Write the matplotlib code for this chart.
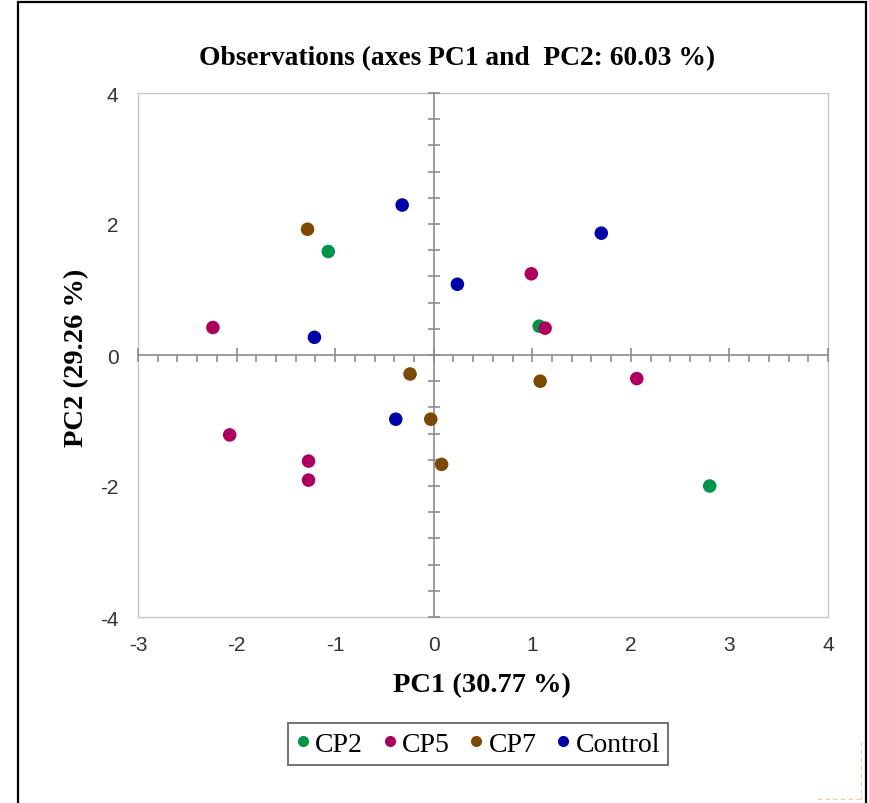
import matplotlib
matplotlib.use("Agg")
import matplotlib.pyplot as plt
from matplotlib.ticker import MultipleLocator, NullFormatter
from matplotlib.patches import Rectangle
from matplotlib.lines import Line2D

plt.rcParams["axes.unicode_minus"] = False

groups = ["CP2", "CP5", "CP7", "Control"]
colors = ["#00934A", "#AD005E", "#7B4A00", "#0000A8"]

cp2_pc1 = [-1.07, 1.07, 2.80]
cp2_pc2 = [1.58, 0.44, -2.00]

cp5_pc1 = [-2.24, 1.13, 2.06, 0.99, -2.07, -1.27, -1.27]
cp5_pc2 = [0.42, 0.41, -0.36, 1.24, -1.22, -1.62, -1.91]

cp7_pc1 = [-1.28, -0.24, 1.08, -0.03, 0.08]
cp7_pc2 = [1.92, -0.29, -0.40, -0.98, -1.67]

ctrl_pc1 = [-0.32, 0.24, -1.21, 1.70, -0.385]
ctrl_pc2 = [2.29, 1.08, 0.27, 1.86, -0.98]

series = [(cp2_pc1, cp2_pc2), (cp5_pc1, cp5_pc2),
          (cp7_pc1, cp7_pc2), (ctrl_pc1, ctrl_pc2)]

serif = ["Liberation Serif", "DejaVu Serif"]
sans = ["Liberation Sans", "DejaVu Sans"]

W, H = 869, 804
fig = plt.figure(figsize=(W / 100, H / 100), dpi=100)

# outer black frame
fig.patches.append(Rectangle((18 / W, -0.01), (866 - 18) / W, 1.01 - 2.5 / H,
                             transform=fig.transFigure, fill=False,
                             edgecolor="black", lw=1.6))

pos = [138 / W, 1 - 618 / H, (828 - 138) / W, (618 - 94) / H]

# frame axes: grey box plus tick labels at the edges
ax = fig.add_axes(pos)
ax.set_xlim(-3, 4)
ax.set_ylim(-4, 4)
ax.xaxis.set_major_locator(MultipleLocator(1))
ax.yaxis.set_major_locator(MultipleLocator(2))
for s in ax.spines.values():
    s.set_color("#C8C8C8")
    s.set_linewidth(1.0)
ax.tick_params(length=0, labelsize=15, labelcolor="#333333")
ax.tick_params(axis="y", pad=14)
ax.tick_params(axis="x", pad=13)
for lab in ax.get_xticklabels() + ax.get_yticklabels():
    lab.set_fontfamily(sans)

# crossing axes through the origin with ticks
ax2 = fig.add_axes(pos)
ax2.set_xlim(-3, 4)
ax2.set_ylim(-4, 4)
ax2.patch.set_visible(False)
ax2.spines["left"].set_position(("data", 0))
ax2.spines["bottom"].set_position(("data", 0))
ax2.spines["top"].set_visible(False)
ax2.spines["right"].set_visible(False)
for k in ["left", "bottom"]:
    ax2.spines[k].set_color("#8C8C8C")
    ax2.spines[k].set_linewidth(1.2)
ax2.xaxis.set_major_locator(MultipleLocator(1))
ax2.yaxis.set_major_locator(MultipleLocator(2))
ax2.xaxis.set_minor_locator(MultipleLocator(0.2))
ax2.yaxis.set_minor_locator(MultipleLocator(0.4))
ax2.xaxis.set_major_formatter(NullFormatter())
ax2.yaxis.set_major_formatter(NullFormatter())
ax2.tick_params(axis="x", which="major", direction="inout", length=10,
                width=1.2, color="#8C8C8C")
ax2.tick_params(axis="x", which="minor", direction="out", length=5,
                width=1.2, color="#8C8C8C")
ax2.tick_params(axis="y", which="both", direction="inout", length=8,
                width=1.2, color="#8C8C8C")

for (xs, ys), c, g in zip(series, colors, groups):
    ax2.scatter(xs, ys, s=95, color=c, edgecolors="none", label=g, zorder=3)

fig.text(457 / W, 1 - 59 / H, "Observations (axes PC1 and  PC2: 60.03 %)",
         ha="center", va="center", fontsize=19.8, fontweight="bold",
         family=serif)
fig.text(482 / W, 1 - 686 / H, "PC1 (30.77 %)", ha="center", va="center",
         fontsize=20.5, fontweight="bold", family=serif)
fig.text(77 / W, 1 - 358 / H, "PC2 (29.26 %)", ha="center", va="center",
         rotation=90, fontsize=20.5, fontweight="bold", family=serif)

handles = [Line2D([], [], ls="none", marker="o", markersize=8,
                  markerfacecolor=c, markeredgecolor="none") for c in colors]
leg = fig.legend(handles, groups, loc="center", ncol=4,
                 bbox_to_anchor=(478 / W, 1 - 745 / H),
                 prop={"family": serif, "size": 20},
                 frameon=True, fancybox=False, edgecolor="#404040",
                 handlelength=0.5, handletextpad=0.2, columnspacing=0.7,
                 borderpad=0.3)
leg.get_frame().set_linewidth(1.3)

# faint dashed marks at lower right corner
fig.lines.append(Line2D([861 / W, 861 / W], [1 - 743 / H, 1 - 800 / H],
                        transform=fig.transFigure, color="#F8C8A8",
                        lw=0.8, ls=(0, (4, 3))))
fig.lines.append(Line2D([817 / W, 861 / W], [1 - 800 / H, 1 - 800 / H],
                        transform=fig.transFigure, color="#F8C8A8",
                        lw=0.8, ls=(0, (4, 3))))

fig.savefig("out.png", dpi=100)
